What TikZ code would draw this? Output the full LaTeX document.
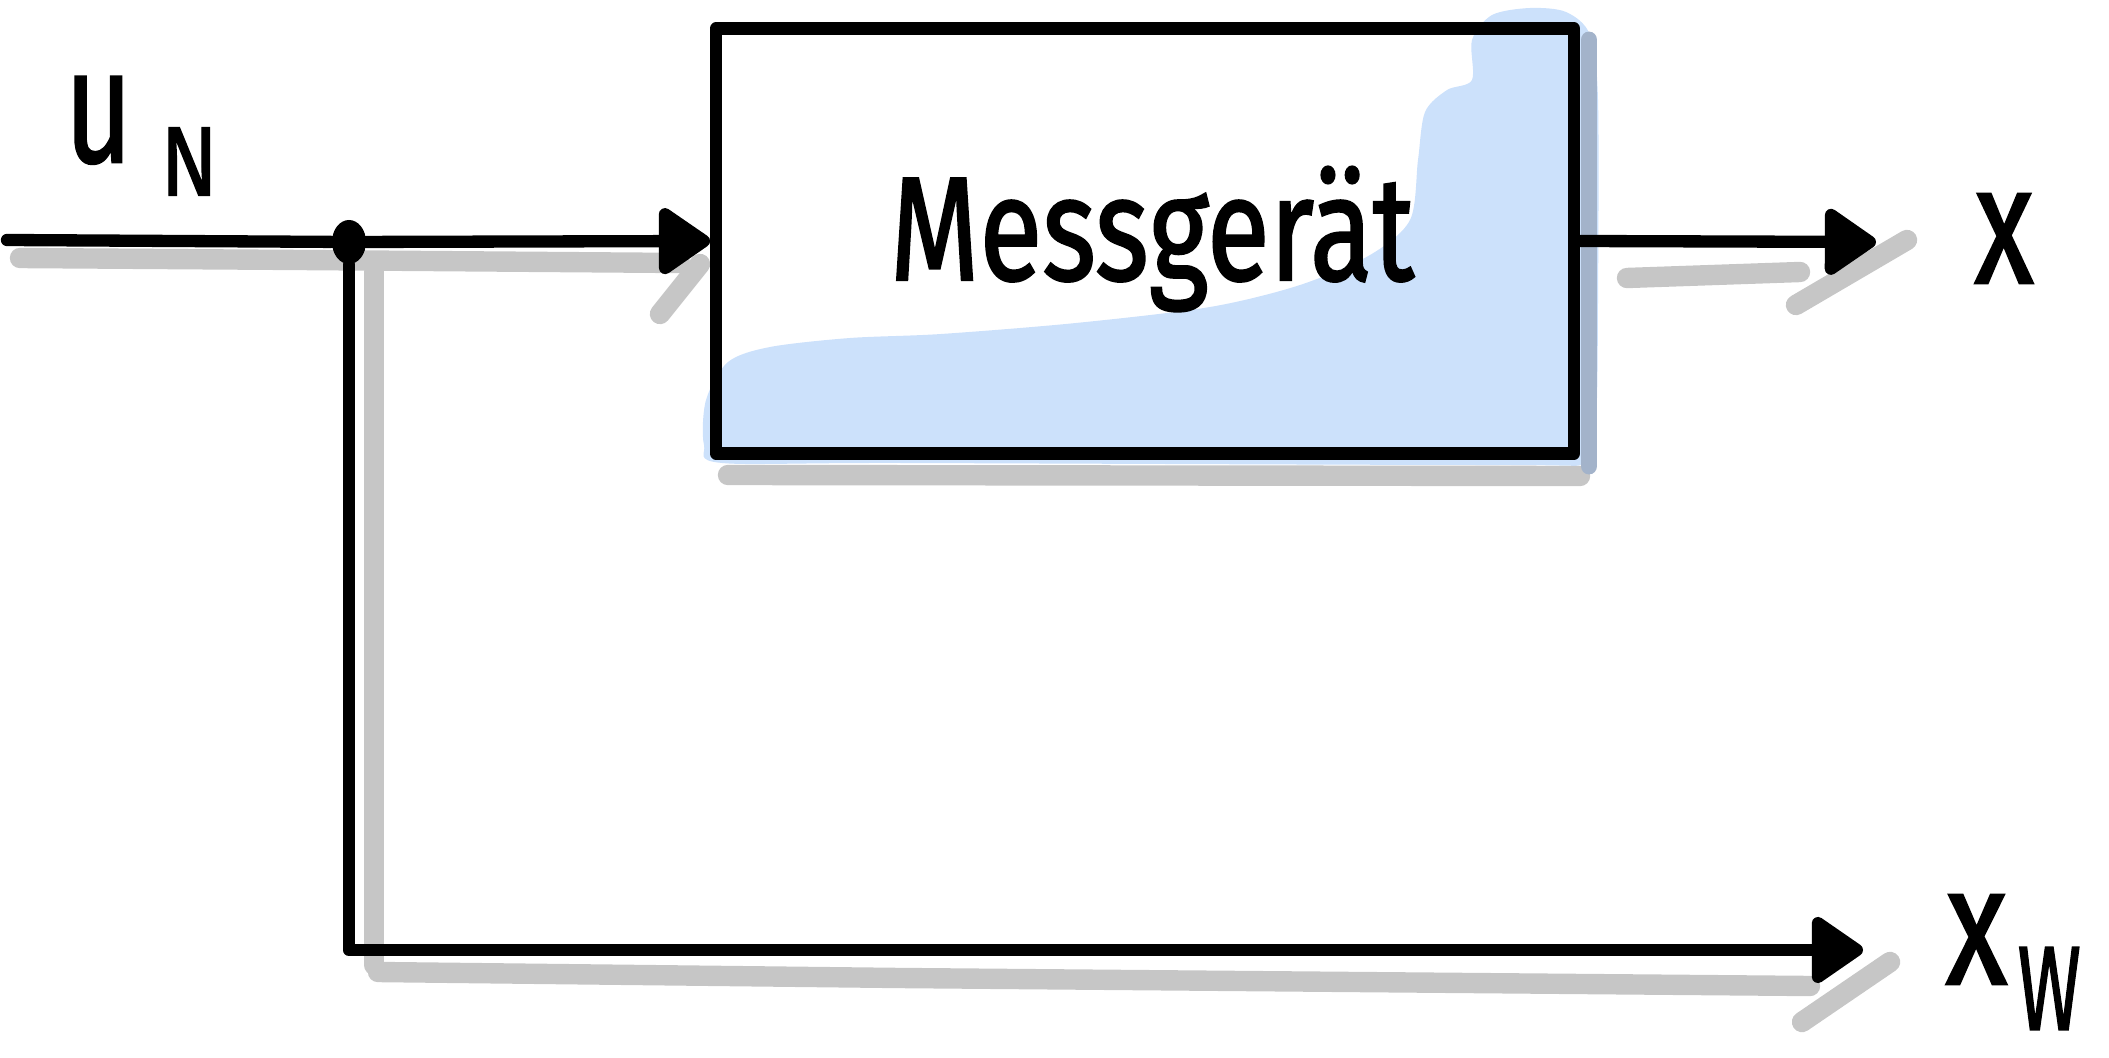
\documentclass[tikz,border=0pt]{standalone}
\usepackage{fontspec}
\setmainfont{Fira Sans}
\newfontfamily\handfont{Fira Sans}[FakeBold=1.6]
\usetikzlibrary{arrows.meta,shapes.geometric}
\definecolor{fillblue}{HTML}{CCE1FB}
\definecolor{shadowgrey}{HTML}{C6C6C6}
\definecolor{shadowblue}{HTML}{A3B3CA}
\tikzset{
  ink/.style={line width=3.5pt, line cap=round, line join=round},
  shadowline/.style={draw=shadowgrey, line width=5.8pt, line cap=round, line join=round},
  tipend/.style={-{Triangle[length=16pt,width=21pt,round]}},
  hand/.style={inner sep=0pt, font=\handfont},
}
\begin{document}
\begin{tikzpicture}[x=0.01cm,y=-0.01cm]
\useasboundingbox (0,0) rectangle (2109,1058);

% blue sketch fill of the block
\fill[fillblue] plot[smooth cycle, tension=0.5] coordinates {
  (704,445) (706,400) (728,362) (770,347) (850,338) (941,334) (1076,323)
  (1210,307) (1300,285) (1370,255) (1410,220) (1418,160) (1425,112)
  (1447,90) (1472,80) (1472,40) (1492,15) (1530,8) (1566,12) (1590,35)
  (1598,100) (1598,300) (1596,420) (1586,462) (1500,465) (900,463) (722,463)};

% shadows
\draw[shadowline] (20,258) -- (300,260) -- (680,263);
\draw[shadowline] (700,264) -- (660,314);
\draw[shadowline] (374,272) -- (374,965);
\draw[shadowline] (378,972) -- (900,978) -- (1810,986);
\draw[shadowline] (1802,1022) -- (1890,962);
\draw[shadowline] (1627,278) -- (1800,272);
\draw[shadowline] (1796,305) -- (1907,240);
\draw[shadowline] (728,475) -- (1580,476);
\draw[draw=shadowblue, line width=4.8pt, line cap=round] (1589,40) -- (1589,466);

% block
\node[draw, ink, minimum width=8.57cm, minimum height=4.25cm, inner sep=0pt] (box) at (1145,241) {};
\node[hand, anchor=base] (boxlabel) at (1152,280)
  {\fontsize{42}{42}\selectfont\scalebox{0.78}[1]{Messgerät}};

% junction and end points
\coordinate (uin) at (7,240);
\node[ellipse, fill, minimum width=0.34cm, minimum height=0.44cm, inner sep=0pt] (junc) at (349,242) {};
\coordinate (xo) at (1876,242);
\coordinate (xw) at (1863,950);

% connectors
\draw[ink] (uin) -- (junc);
\draw[ink, tipend] (junc) -- (box.west);
\draw[ink, tipend] (box.east) -- (xo);
\draw[ink, tipend] (junc) |- (xw);

% labels
\node[hand, anchor=base west] (ulabel) at (64,162)
  {\fontsize{46}{46}\selectfont\scalebox{0.72}[1]{u}\hspace{8pt}\raisebox{-9.5pt}{\fontsize{28}{28}\selectfont\scalebox{0.85}[1]{N}}};
\node[hand, anchor=base] (xlabel) at (2004,283)
  {\fontsize{48}{48}\selectfont\scalebox{0.72}[1]{x}};
\node[hand, anchor=base west] (xwlabel) at (1945,984)
  {\fontsize{48}{48}\selectfont\scalebox{0.75}[1]{x}\hspace{3pt}\raisebox{-13pt}{\fontsize{34}{34}\selectfont\scalebox{0.64}[1]{W}}};
\end{tikzpicture}
\end{document}
